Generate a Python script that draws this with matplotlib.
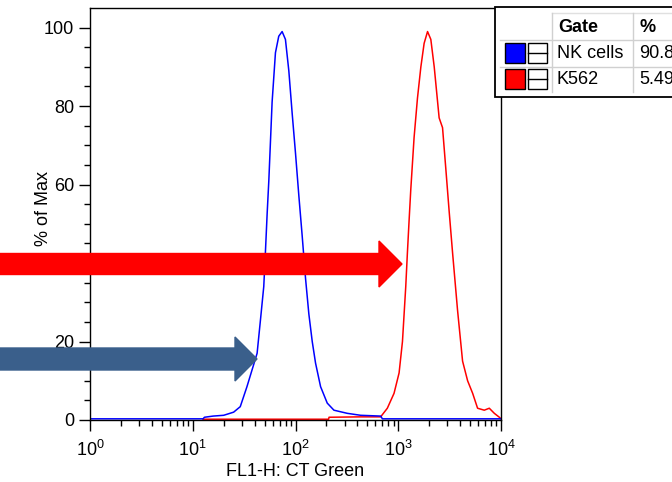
import numpy as np
import matplotlib
matplotlib.use("Agg")
import matplotlib.pyplot as plt
from matplotlib.patches import Rectangle, FancyArrow
from matplotlib.lines import Line2D

plt.rcParams['font.family'] = ['Liberation Sans', 'DejaVu Sans']
plt.rcParams['mathtext.fontset'] = 'custom'
plt.rcParams['mathtext.rm'] = 'Liberation Sans'

# FL1-H values and % of Max
nk_x = [1, 12.6, 13, 15.8, 20, 25, 29, 33.7, 37.8, 42.3, 45.6, 49.1, 50.9, 53, 55,
        57, 59.2, 63.8, 68.7, 74.1, 79.8, 86.1, 92.9, 100, 107.9, 116.1, 125.3,
        134.9, 145.5, 156.7, 175.4, 203.7, 236.6, 319, 430.5, 674.5, 701, 10000]
nk_y = [0.3, 0.3, 0.7, 1.0, 1.2, 2.0, 3.4, 8.5, 12.8, 17, 25.5, 34, 42.5, 52.7, 61,
        70.7, 81, 93.6, 97.8, 99, 97, 89, 78, 68, 57, 47, 36,
        27, 20, 14.5, 8.5, 4.3, 2.5, 1.7, 1.2, 1.0, 0.3, 0.3]

k562_x = [12.6, 210, 212, 430, 674, 783, 910, 1019, 1099, 1183, 1227, 1276, 1324,
          1426, 1538, 1660, 1786, 1928, 2075, 2239, 2500, 2698, 2904, 3133, 3381,
          3776, 4227, 4732, 5297, 5916, 6871, 7691, 8610, 9638, 10000]
k562_y = [0.2, 0.2, 0.7, 0.8, 0.8, 3, 6.8, 12, 20, 34, 42.5, 51, 58.7,
          72, 82, 90, 96, 99, 97, 90, 77, 74.5, 64, 53, 42.5,
          28, 15, 10, 6.8, 3, 2.5, 3, 1.7, 0.7, 0.3]

gates = ['NK cells', 'K562']
gate_pct = ['90.8', '5.49']
gate_colors = ['#0000FF', '#FF0000']

W, H = 672, 482
fig = plt.figure(figsize=(W / 100, H / 100), dpi=100)


def fx(px):
    return px / W


def fy(py):
    return 1 - py / H


ax = fig.add_axes([fx(90), fy(420), fx(501) - fx(90), fy(8) - fy(420)])
ax.plot(k562_x, k562_y, color=gate_colors[1], lw=1.1)
ax.plot(nk_x, nk_y, color=gate_colors[0], lw=1.1)
ax.set_xscale('log')
ax.set_xlim(1, 10000)
ax.set_ylim(0, 105)

ax.set_yticks([0, 20, 40, 60, 80, 100])
ax.set_yticks(np.arange(0, 105, 5), minor=True)
ax.set_xticks([1, 10, 100, 1000, 10000])
ax.set_xticklabels([r'$\mathrm{10^{%d}}$' % n for n in range(5)])
ax.tick_params(which='major', length=8, width=1, labelsize=13, direction='out')
ax.tick_params(which='minor', length=4, width=1, direction='out')
ax.tick_params(axis='x', pad=6)
for s in ax.spines.values():
    s.set_linewidth(1.0)

fig.text(fx(295), fy(472), 'FL1-H: CT Green', ha='center', va='center', fontsize=13)
fig.text(fx(43), fy(209), '% of Max', ha='center', va='center', rotation=90, fontsize=13)

# arrows overlaid on the plot
fig.add_artist(FancyArrow(fx(0), fy(264), fx(402), 0, width=21 / H,
                          head_width=46 / H, head_length=fx(23),
                          length_includes_head=True, color='#FF0000',
                          transform=fig.transFigure, zorder=10))
fig.add_artist(FancyArrow(fx(0), fy(359), fx(257), 0, width=22 / H,
                          head_width=44 / H, head_length=fx(22),
                          length_includes_head=True, color='#3A5F8B',
                          transform=fig.transFigure, zorder=10))

# gate legend table (cut by the right edge, as in the source image)
fig.add_artist(Rectangle((fx(495), fy(97)), fx(200), fy(7) - fy(97),
                         facecolor='white', edgecolor='black', lw=1.3,
                         transform=fig.transFigure, zorder=11))
for yy in [40, 67]:
    fig.add_artist(Line2D([fx(500), fx(672)], [fy(yy), fy(yy)], color='#D0D0D0',
                          lw=1, transform=fig.transFigure, zorder=12))
fig.add_artist(Line2D([fx(552), fx(672)], [fy(13), fy(13)], color='#E0E0E0',
                      lw=1, transform=fig.transFigure, zorder=12))
for xx in [552, 633]:
    fig.add_artist(Line2D([fx(xx), fx(xx)], [fy(13), fy(92)], color='#D0D0D0',
                          lw=1, transform=fig.transFigure, zorder=12))
fig.text(fx(558), fy(27), 'Gate', fontsize=13, fontweight='bold', va='center', zorder=13)
fig.text(fx(639), fy(27), '%', fontsize=13, fontweight='bold', va='center', zorder=13)
for i, (g, p, c) in enumerate(zip(gates, gate_pct, gate_colors)):
    yc = 53 + i * 26
    fig.add_artist(Rectangle((fx(505), fy(yc + 10)), fx(20), fy(yc - 10) - fy(yc + 10),
                             facecolor=c, edgecolor='black', lw=1,
                             transform=fig.transFigure, zorder=13))
    fig.add_artist(Rectangle((fx(528), fy(yc + 10)), fx(19), fy(yc - 10) - fy(yc + 10),
                             facecolor='white', edgecolor='black', lw=1,
                             transform=fig.transFigure, zorder=13))
    fig.add_artist(Line2D([fx(528), fx(547)], [fy(yc), fy(yc)], color='black',
                          lw=1, transform=fig.transFigure, zorder=14))
    fig.text(fx(557), fy(yc), g, fontsize=13, va='center', zorder=13)
    fig.text(fx(639), fy(yc), p, fontsize=13, va='center', zorder=13)

fig.savefig('out.png', dpi=100)
